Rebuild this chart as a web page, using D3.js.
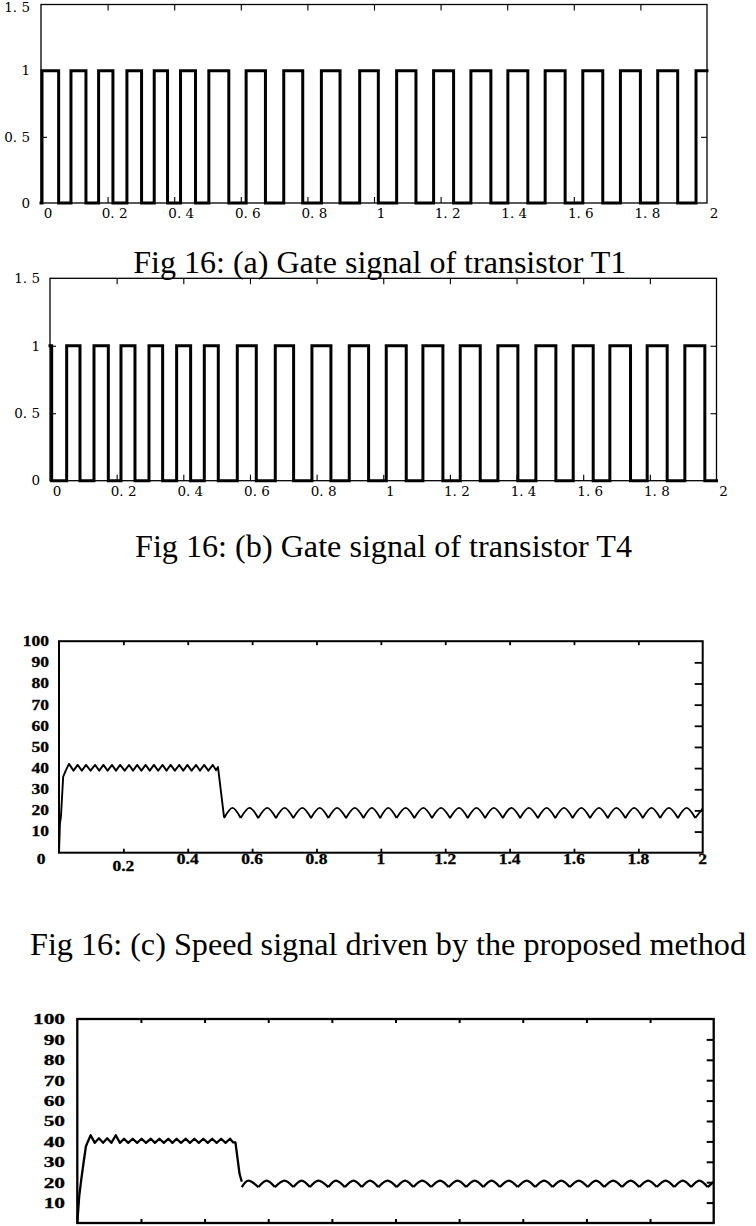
<!DOCTYPE html>
<html><head><meta charset="utf-8">
<script src="https://cdn.jsdelivr.net/npm/d3@7"></script>
<style>body{margin:0;background:#fff}svg{display:block}</style>
</head><body><svg id="c" width="756" height="1226"></svg>
<script>
// ================= DATA =================
// Gate panels (a), (b)
const gateXTicks = [0, 0.2, 0.4, 0.6, 0.8, 1, 1.2, 1.4, 1.6, 1.8, 2];
const gateXLabels = ["0", "0. 2", "0. 4", "0. 6", "0. 8", "1", "1. 2", "1. 4", "1. 6", "1. 8", "2"];
const gateYTicks = [0, 0.5, 1, 1.5];
const gateYLabels = ["0", "0. 5", "1", "1. 5"];

// (a) T1: starts low, edge times (s)
const gateA_start = 0;
const gateA_rise = [0.003, 0.090, 0.173, 0.258, 0.340, 0.419, 0.504, 0.616, 0.729, 0.842, 0.957, 1.068, 1.179, 1.291, 1.402, 1.514, 1.627, 1.740, 1.852, 1.967];
const gateA_fall = [0.053, 0.135, 0.216, 0.302, 0.380, 0.464, 0.564, 0.674, 0.786, 0.898, 1.013, 1.126, 1.239, 1.351, 1.462, 1.574, 1.687, 1.800, 1.912];

// (b) T4: starts high, edge times (s)
const gateB_start = 1;
const gateB_rise = [0.050, 0.132, 0.213, 0.297, 0.380, 0.463, 0.562, 0.676, 0.786, 0.898, 1.009, 1.119, 1.231, 1.344, 1.458, 1.570, 1.680, 1.792, 1.905];
const gateB_fall = [0.005, 0.090, 0.175, 0.255, 0.338, 0.422, 0.505, 0.619, 0.731, 0.843, 0.956, 1.069, 1.179, 1.291, 1.404, 1.518, 1.630, 1.742, 1.852, 1.965];

// Speed panels (c), (d)
const speedXTicks = [0.2, 0.4, 0.6, 0.8, 1, 1.2, 1.4, 1.6, 1.8, 2];
const speedXLabels = ["0.2", "0.4", "0.6", "0.8", "1", "1.2", "1.4", "1.6", "1.8", "2"];
const speedYTicks = [0, 10, 20, 30, 40, 50, 60, 70, 80, 90, 100];
const speedYLabelsC = ["0", "10", "20", "30", "40", "50", "60", "70", "80", "90", "100"];
const speedYLabelsD = ["", "10", "20", "30", "40", "50", "60", "70", "80", "90", "100"];

// (c) start-up and 40 rpm ripple (time, speed)
const speedC_start = [[0, 0], [0.003, 14], [0.006, 17], [0.013, 36], [0.023, 39.5]];
const speedC_peakT = [0.031, 0.058, 0.084, 0.112, 0.138, 0.165, 0.190, 0.218, 0.243, 0.269, 0.295, 0.322, 0.347, 0.374, 0.399, 0.426, 0.451, 0.478];
const speedC_peakV = [42, 41.5, 41.5, 41.5, 41.5, 41.5, 41.5, 41.5, 41.5, 41.5, 41.5, 41.5, 41.5, 41.5, 41.5, 41.5, 41.5, 41.5];
const speedC_troughT = [0.045, 0.071, 0.098, 0.125, 0.151, 0.177, 0.204, 0.230, 0.256, 0.282, 0.308, 0.334, 0.360, 0.386, 0.412, 0.438, 0.464, 0.488];
const speedC_troughV = [38.8, 38.8, 38.8, 38.8, 38.8, 38.8, 38.8, 38.8, 38.8, 38.8, 38.8, 38.8, 38.8, 38.8, 38.8, 38.8, 38.8, 39];
const speedC_drop = [[0.494, 40.5], [0.513, 16.6]];
// (c) 20 rpm scalloped ripple
const speedC_arcLowT = [0.513, 0.5645, 0.619, 0.674, 0.728, 0.783, 0.837, 0.892, 0.946, 0.998, 1.049, 1.104, 1.159, 1.215, 1.270, 1.324, 1.379, 1.433, 1.488, 1.542, 1.596, 1.650, 1.705, 1.760, 1.814, 1.868, 1.923, 1.977];
const speedC_arcHighT = [0.539, 0.592, 0.647, 0.701, 0.756, 0.810, 0.864, 0.919, 0.972, 1.023, 1.077, 1.132, 1.187, 1.243, 1.297, 1.351, 1.406, 1.460, 1.515, 1.569, 1.623, 1.678, 1.732, 1.787, 1.841, 1.895, 1.950];
const speedC_arcLowV = 16.4;
const speedC_arcHighV = 21.2;
const speedC_end = [2.0, 20.9];

// (d) start-up and 40 rpm ripple
const speedD_start = [[0, 0], [0.006, 13], [0.013, 22], [0.021, 31], [0.027, 37.5], [0.032, 39.5]];
const speedD_peakT = [0.042, 0.068, 0.094, 0.121, 0.147, 0.174, 0.202, 0.231, 0.258, 0.286, 0.312, 0.341, 0.368, 0.396, 0.424, 0.452, 0.480];
const speedD_peakV = [43, 41.5, 41.5, 43, 41.3, 41.3, 41.3, 41.3, 41.3, 41.3, 41.3, 41.3, 41.3, 41.3, 41.3, 41.3, 41.3];
const speedD_troughT = [0.055, 0.081, 0.107, 0.134, 0.160, 0.188, 0.216, 0.244, 0.272, 0.299, 0.326, 0.354, 0.382, 0.410, 0.438, 0.466, 0.490];
const speedD_troughV = [39.3, 39.3, 39.3, 39.3, 39.3, 39.3, 39.3, 39.3, 39.3, 39.3, 39.3, 39.3, 39.3, 39.3, 39.3, 39.3, 39.5];
const speedD_drop = [[0.497, 39.5], [0.510, 24], [0.517, 20.2]];
// (d) 20 rpm ripple
const speedD_arcLowT = [0.517, 0.569, 0.621, 0.679, 0.731, 0.789, 0.841, 0.894, 0.946, 1.004, 1.056, 1.112, 1.167, 1.222, 1.276, 1.328, 1.384, 1.439, 1.494, 1.548, 1.604, 1.656, 1.712, 1.766, 1.821, 1.876, 1.929, 1.981];
const speedD_arcHighT = [0.538, 0.595, 0.651, 0.705, 0.758, 0.813, 0.868, 0.920, 0.975, 1.030, 1.084, 1.140, 1.195, 1.249, 1.302, 1.356, 1.412, 1.467, 1.521, 1.576, 1.630, 1.684, 1.739, 1.794, 1.849, 1.903, 1.955];
const speedD_arcLowV = 17.6;
const speedD_arcHighV = 20.8;
const speedD_end = [2.0, 20.2];

const captions = [
  "Fig 16: (a) Gate signal of transistor T1",
  "Fig 16: (b) Gate signal of transistor T4",
  "Fig 16: (c) Speed signal driven by the proposed method"
];

// ================= DRAWING =================
const svg = d3.select("#c");
svg.append("rect").attr("width", 756).attr("height", 1226).attr("fill", "#fff");

function txt(g, x, y, s, o) {
  return g.append("text")
    .attr("transform", `translate(${x},${y}) scale(${o.sx || 1},1)`)
    .attr("text-anchor", o.anchor || "middle")
    .attr("dy", o.dy == null ? "0.35em" : o.dy)
    .style("font-family", o.font)
    .style("font-size", o.size + "px")
    .style("font-weight", o.weight || "normal")
    .attr("fill", "#000")
    .attr("stroke", o.stroke ? "#000" : "none")
    .attr("stroke-width", o.stroke || 0)
    .text(s);
}

function panel(cfg) {
  const x = d3.scaleLinear().domain([0, 2]).range(cfg.xr);
  const y = d3.scaleLinear().domain(cfg.yd).range(cfg.yr);
  const g = svg.append("g");
  const mk = (axis, tr) => {
    const a = g.append("g").attr("transform", tr).call(axis);
    a.select(".domain").remove();
    a.selectAll("text").remove();
    a.selectAll("line").attr("stroke", "#000").attr("stroke-width", cfg.tickW);
  };
  const xt = cfg.xTickVals;
  mk(d3.axisTop(x).tickValues(xt).tickSize(-cfg.tickX).tickFormat(""), `translate(0,${cfg.yr[1]})`);
  mk(d3.axisBottom(x).tickValues(xt).tickSize(-cfg.tickX).tickFormat(""), `translate(0,${cfg.yr[0]})`);
  if (cfg.tickYL) mk(d3.axisLeft(y).tickValues(cfg.yTickVals).tickSize(-cfg.tickYL).tickFormat(""), `translate(${cfg.xr[0]},0)`);
  if (cfg.tickYR) mk(d3.axisRight(y).tickValues(cfg.yTickVals).tickSize(-cfg.tickYR).tickFormat(""), `translate(${cfg.xr[1]},0)`);
  g.append("rect")
    .attr("x", cfg.xr[0]).attr("y", cfg.yr[1])
    .attr("width", cfg.xr[1] - cfg.xr[0]).attr("height", cfg.yr[0] - cfg.yr[1])
    .attr("fill", "none").attr("stroke", "#000").attr("stroke-width", cfg.frameW);
  return { x, y, g };
}

function gatePoints(start, rise, fall) {
  const edges = rise.map(t => [t, 1]).concat(fall.map(t => [t, 0])).sort((a, b) => a[0] - b[0]);
  const pts = [[0, start]];
  let cur = start;
  edges.forEach(([t, v]) => { pts.push([t, cur]); pts.push([t, v]); cur = v; });
  pts.push([2, cur]);
  return pts;
}

function drawGate(cfg, start, rise, fall) {
  const p = panel(cfg);
  const line = d3.line().x(d => p.x(d[0])).y(d => p.y(d[1]));
  p.g.append("path").attr("d", line(gatePoints(start, rise, fall)))
    .attr("fill", "none").attr("stroke", "#000").attr("stroke-width", 3)
    .attr("stroke-linejoin", "miter").attr("stroke-linecap", "square");
  const lf = { font: "DejaVu Serif", size: 13.5 };
  gateXTicks.forEach((t, i) => txt(p.g, p.x(t) + 7, cfg.xLabY, gateXLabels[i], lf));
  gateYTicks.forEach((v, i) => {
    const yy = Math.max(p.y(v), cfg.yLabMin);
    txt(p.g, cfg.yLabR, yy, gateYLabels[i], Object.assign({ anchor: "end" }, lf));
  });
  return p;
}

const cfgA = { xr: [41, 707], yd: [0, 1.5], yr: [203, 4.5], frameW: 1.3, tickW: 1.1, tickX: 6, tickYL: 6, tickYR: 6,
  xTickVals: [0.2, 0.4, 0.6, 0.8, 1, 1.2, 1.4, 1.6, 1.8], yTickVals: [0.5, 1], xLabY: 213.5, yLabR: 30, yLabMin: 7.5 };
const cfgB = { xr: [50, 716.5], yd: [0, 1.5], yr: [480.7, 278.3], frameW: 1.3, tickW: 1.1, tickX: 6, tickYL: 6, tickYR: 6,
  xTickVals: [0.2, 0.4, 0.6, 0.8, 1, 1.2, 1.4, 1.6, 1.8], yTickVals: [0.5, 1], xLabY: 491.5, yLabR: 40, yLabMin: 0 };

drawGate(cfgA, gateA_start, gateA_rise, gateA_fall);
drawGate(cfgB, gateB_start, gateB_rise, gateB_fall);

function zig(peakT, peakV, troughT, troughV) {
  const pts = peakT.map((t, i) => [t, peakV[i]]).concat(troughT.map((t, i) => [t, troughV[i]]));
  return pts.sort((a, b) => a[0] - b[0]);
}

function drawSpeed(cfg, linPts, lowT, highT, lowV, highV, endPt, lw) {
  const p = panel(cfg);
  const line = d3.line().x(d => p.x(d[0])).y(d => p.y(d[1]));
  const arc = d3.line().x(d => p.x(d[0])).y(d => p.y(d[1])).curve(d3.curveNatural);
  let d = line(linPts);
  for (let i = 0; i < highT.length; i++) {
    d += arc([[lowT[i], lowV], [highT[i], highV], [lowT[i + 1], lowV]]);
  }
  d += line([[lowT[lowT.length - 1], lowV], endPt]);
  p.g.append("path").attr("d", d).attr("fill", "none").attr("stroke", "#000")
    .attr("stroke-width", lw).attr("stroke-linejoin", "round");
  return p;
}

// (c)
const cfgC = { xr: [59, 702.7], yd: [0, 100], yr: [852.7, 641.2], frameW: 2, tickW: 1.8, tickX: 4, tickYR: 8,
  xTickVals: [0.2, 0.4, 0.6, 0.8, 1, 1.2, 1.4, 1.6, 1.8], yTickVals: [10, 20, 30, 40, 50, 60, 70, 80, 90] };
const linC = speedC_start.concat(zig(speedC_peakT, speedC_peakV, speedC_troughT, speedC_troughV), speedC_drop);
const pC = drawSpeed(cfgC, linC, speedC_arcLowT, speedC_arcHighT, speedC_arcLowV, speedC_arcHighV, speedC_end, 1.9);
const lfC = { font: "Liberation Serif", size: 14, weight: "bold", sx: 1.25, stroke: 0.3 };
speedXTicks.forEach((t, i) => txt(pC.g, pC.x(t), t === 0.2 ? 870.5 : 863.5, speedXLabels[i], Object.assign({ dy: 0 }, lfC)));
speedYTicks.forEach((v, i) => {
  if (v === 0) txt(pC.g, 45.5, 863.5, speedYLabelsC[i], Object.assign({ anchor: "end", dy: 0 }, lfC));
  else txt(pC.g, 49, pC.y(v), speedYLabelsC[i], Object.assign({ anchor: "end" }, lfC));
});

// (d)
const cfgD = { xr: [77.3, 713.7], yd: [0, 100], yr: [1223, 1019], frameW: 2.3, tickW: 2, tickX: 4, tickYR: 7,
  xTickVals: [0.2, 0.4, 0.6, 0.8, 1, 1.2, 1.4, 1.6, 1.8], yTickVals: [10, 20, 30, 40, 50, 60, 70, 80, 90] };
const linD = speedD_start.concat(zig(speedD_peakT, speedD_peakV, speedD_troughT, speedD_troughV), speedD_drop);
const pD = drawSpeed(cfgD, linD, speedD_arcLowT, speedD_arcHighT, speedD_arcLowV, speedD_arcHighV, speedD_end, 2.3);
const lfD = { font: "Liberation Serif", size: 15.5, weight: "bold", sx: 1.38, stroke: 0.3 };
speedYTicks.forEach((v, i) => { if (speedYLabelsD[i]) txt(pD.g, 65, pD.y(v), speedYLabelsD[i], Object.assign({ anchor: "end" }, lfD)); });

// captions
const capG = svg.append("g");
[[133.3, 273.3, 493, 32], [135, 556.7, 497, 32], [30, 955, 716, 30.5]].forEach(([x, y, w, s], i) => {
  capG.append("text").attr("x", x).attr("y", y)
    .attr("textLength", w).attr("lengthAdjust", "spacingAndGlyphs")
    .style("font-family", "Liberation Serif").style("font-size", s + "px")
    .attr("fill", "#000").text(captions[i]);
});
</script>
</body></html>
